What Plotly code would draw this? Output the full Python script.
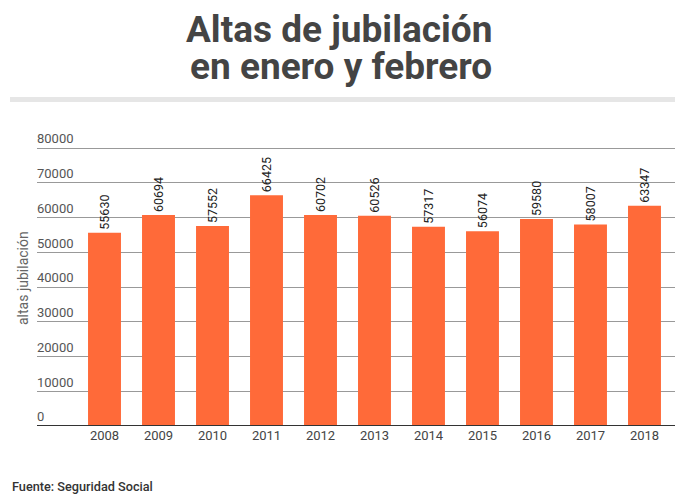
import plotly.graph_objects as go

years = ["2008", "2009", "2010", "2011", "2012", "2013", "2014", "2015", "2016", "2017", "2018"]
altas = [55630, 60694, 57552, 66425, 60702, 60526, 57317, 56074, 59580, 58007, 63347]
y_ticks = [0, 10000, 20000, 30000, 40000, 50000, 60000, 70000, 80000]

W, H = 697, 501
L, R, T, B = 37, 22, 130, 75
pw, ph = W - L - R, H - T - B
# pixels per unit so that 0 sits at y=426 and 80000 at y=148
unit_px = 278 / 80000
y_top = ph / unit_px

def px(x):
    return (x - L) / pw

def py(y):
    return (H - B - y) / ph

fig = go.Figure()
fig.add_trace(go.Bar(
    x=years, y=altas,
    marker=dict(color="#ff6a39", line=dict(width=0)),
    text=[str(v) for v in altas],
    textposition="outside",
    textangle=-90,
    constraintext="none",
    cliponaxis=False,
    textfont=dict(family="Roboto", size=12.5, color="#222222"),
    hoverinfo="x+y",
))

fig.update_layout(
    width=W, height=H,
    margin=dict(l=L, r=R, t=T, b=B),
    paper_bgcolor="white", plot_bgcolor="white",
    bargap=0.39,
    showlegend=False,
    font=dict(family="Roboto", color="#444444"),
    xaxis=dict(
        type="category",
        range=[-1.25, 10.565],
        showgrid=False,
        showline=False,
        ticks="",
        tickfont=dict(family="Roboto", size=13, color="#444444"),
        zeroline=False,
    ),
    yaxis=dict(
        range=[0, y_top],
        tickvals=y_ticks,
        ticktext=[str(v) for v in y_ticks],
        ticklabelposition="inside top",
        ticklabelstandoff=-3,
        tickfont=dict(family="Roboto", size=13, color="#555555"),
        showgrid=True,
        gridcolor="#999999",
        gridwidth=1,
        zeroline=False,
        showline=False,
        ticks="",
    ),
)

# baseline axis
fig.add_shape(type="line", xref="paper", yref="y", x0=0, x1=1, y0=0, y1=0,
              line=dict(color="#333333", width=2))

# separator band under title
fig.add_shape(type="rect", xref="paper", yref="paper",
              x0=px(10), x1=px(675), y0=py(102), y1=py(97),
              fillcolor="#e6e6e6", line=dict(width=0), layer="above")

# title lines
fig.add_annotation(text="<b>Altas de jubilación</b>", xref="paper", yref="paper",
                   x=px(339), y=py(30), xanchor="center", yanchor="middle",
                   showarrow=False, font=dict(family="Roboto", size=37, color="#444444"))
fig.add_annotation(text="<b>en enero y febrero</b>", xref="paper", yref="paper",
                   x=px(341), y=py(66), xanchor="center", yanchor="middle",
                   showarrow=False, font=dict(family="Roboto", size=37, color="#444444"))

# y-axis title
fig.add_annotation(text="altas jubilación", xref="paper", yref="paper",
                   x=px(23), y=py(278), xanchor="center", yanchor="middle",
                   textangle=-90, showarrow=False,
                   font=dict(family="Roboto", size=14, color="#666666"))

# source
fig.add_annotation(text="Fuente: Seguridad Social", xref="paper", yref="paper",
                   x=px(10), y=py(486), xanchor="left", yanchor="middle",
                   showarrow=False,
                   font=dict(family="Roboto", size=12.7, color="#333333", weight=500))

fig.write_html("out.html")
